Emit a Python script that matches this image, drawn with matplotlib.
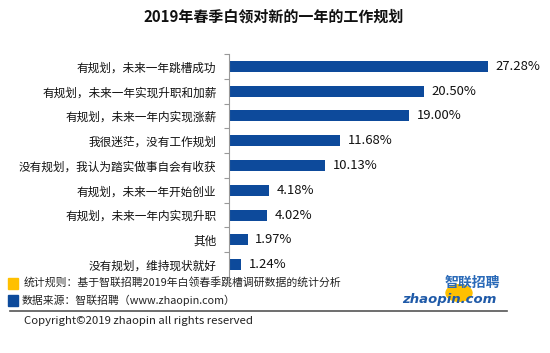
import matplotlib.pyplot as plt
from matplotlib.patches import Rectangle, Circle
from matplotlib.lines import Line2D

plt.rcParams["font.family"] = ["Noto Sans CJK SC", "DejaVu Sans"]

TITLE = "2019年春季白领对新的一年的工作规划"
categories = [
    "有规划，未来一年跳槽成功",
    "有规划，未来一年实现升职和加薪",
    "有规划，未来一年内实现涨薪",
    "我很迷茫，没有工作规划",
    "没有规划，我认为踏实做事自会有收获",
    "有规划，未来一年开始创业",
    "有规划，未来一年内实现升职",
    "其他",
    "没有规划，维持现状就好",
]
values = [27.28, 20.50, 19.00, 11.68, 10.13, 4.18, 4.02, 1.97, 1.24]
note_rule = "统计规则：基于智联招聘2019年白领春季跳槽调研数据的统计分析"
note_source = "数据来源：智联招聘（www.zhaopin.com）"
copyright_text = "Copyright©2019 zhaopin all rights reserved"

BAR = "#0d4a9b"
YELLOW = "#ffc000"
W, H = 550, 353

fig = plt.figure(figsize=(5.5, 3.53), dpi=100)
fig.patch.set_facecolor("white")


def fx(px):
    return px / W


def fy(py):
    return 1 - py / H


# axes from x=229 to 520 px, y=54 to 277 px
ax = fig.add_axes([fx(229), fy(277), fx(520 - 229), fy(54) - fy(277)])
xmax = 27.28 * (520 - 229) / (488 - 229)
n = len(categories)
pos = list(range(n))
ax.barh(pos, values, height=0.44, color=BAR)
ax.set_xlim(0, xmax)
ax.set_ylim(n - 0.5, -0.5)

for p, v in zip(pos, values):
    ax.annotate(f"{v:.2f}%", (v, p), xytext=(5.5, 0), textcoords="offset points",
                va="center", ha="left", fontsize=9.4, color="#111111")

for s in ["top", "right", "bottom"]:
    ax.spines[s].set_visible(False)
ax.spines["left"].set_color("#999999")
ax.spines["left"].set_linewidth(0.8)
ax.set_xticks([])
ax.set_yticks(pos, categories)
ax.set_yticks([i - 0.5 for i in range(n + 1)], minor=True)
ax.tick_params(axis="y", which="major", length=0, pad=9, labelsize=8.4,
               labelcolor="#111111")
ax.tick_params(axis="y", which="minor", length=3.5, width=0.8, color="#999999")

fig.text(fx(274), fy(17), TITLE, ha="center", va="center", fontsize=10.8,
         fontweight="heavy", color="#111111")

# footer notes
fig.add_artist(Rectangle((fx(8), fy(289)), fx(10), fy(278) - fy(289),
                         color=YELLOW, transform=fig.transFigure))
fig.add_artist(Rectangle((fx(8), fy(306)), fx(10), fy(295) - fy(306),
                         color=BAR, transform=fig.transFigure))
fig.text(fx(24), fy(282), note_rule, ha="left", va="center", fontsize=7.8,
         color="#222222")
fig.text(fx(22), fy(300), note_source, ha="left", va="center", fontsize=7.8,
         color="#222222")
fig.add_artist(Line2D([fx(10), fx(507)], [fy(311), fy(311)], color="#555555",
                      lw=1.2, transform=fig.transFigure))
fig.text(fx(24), fy(321), copyright_text, ha="left", va="center", fontsize=8.2,
         color="#222222")

# logo
logo = Circle((fx(459), fy(293)), fx(13), color=YELLOW,
              transform=fig.transFigure, zorder=0)
fig.add_artist(logo)
fig.text(fx(500), fy(283), "智联招聘", ha="right", va="center", fontsize=10,
         fontweight="bold", style="italic", color="#2a6ab8", zorder=2)
fig.text(fx(497), fy(300), "zhaopin.com", ha="right", va="center", fontsize=9.5,
         fontweight="bold", style="italic", color="#1f5aa8",
         family="DejaVu Sans", zorder=2)

fig.savefig("out.png", dpi=100)
